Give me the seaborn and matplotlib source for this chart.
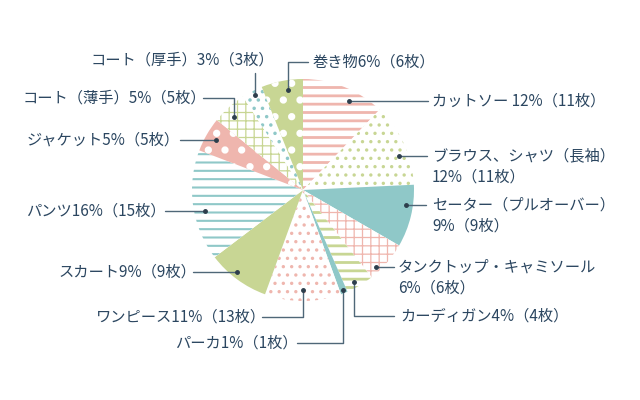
import numpy as np
import matplotlib
matplotlib.use("Agg")
import matplotlib.pyplot as plt
import seaborn as sns

# slices, clockwise from 12 o'clock
items = ["カットソー", "ブラウス、シャツ（長袖）", "セーター（プルオーバー）",
         "タンクトップ・キャミソール", "カーディガン", "パーカ", "ワンピース",
         "スカート", "パンツ", "ジャケット", "コート（薄手）", "コート（厚手）", "巻き物"]
percents = [12, 12, 9, 6, 4, 1, 11, 9, 16, 5, 5, 3, 6]
counts = [11, 11, 9, 6, 4, 1, 13, 9, 15, 5, 5, 3, 6]
seps = [" ", "\n", "\n", "\n", "", "", "", "", "", "", "", "", ""]

PINK = "#efb6ae"
GREEN = "#c8d694"
TEAL = "#8fc8c8"
# facecolor, hatch colour, hatch, hatch linewidth
styles = [
    ("white", PINK, "--", 2.0),
    ("white", GREEN, "..", 1.2),
    (TEAL, None, None, 0),
    ("white", PINK, "++", 0.9),
    ("white", GREEN, "--", 2.0),
    (TEAL, None, None, 0),
    ("white", PINK, "..", 1.2),
    (GREEN, None, None, 0),
    ("white", TEAL, "--", 1.5),
    (PINK, "white", ".", 2.8),
    ("white", GREEN, "++", 0.9),
    ("white", TEAL, "..", 1.3),
    (GREEN, "white", ".", 2.8),
]

# leader layout: position inside wedge (angle frac, radius frac), kind, text x/y (px), line start (px), ha
leaders = [
    (0.37, 0.90, "h", 432, None, 428, "left"),
    (0.38, 0.92, "h", 432, None, 427, "left"),
    (0.67, 0.94, "h", 432, None, 426, "left"),
    (0.24, 0.955, "h", 398, None, 394, "left"),
    (0.37, 0.95, "elbow", 400, 316, 394, "left"),
    (0.5, 0.97, "elbow", 298, 343, 297, "right"),
    (0.5, 0.90, "elbow", 266, 317, 262, "right"),
    (0.43, 0.95, "h", 196, None, 193, "right"),
    (0.57, 0.90, "h", 166, None, 165, "right"),
    (0.5, 0.90, "h", 180, None, 180, "right"),
    (0.59, 0.90, "elbow", 206, 98, 203, "right"),
    (0.46, 0.96, "v", 274, 60, 73, "right"),
    (0.39, 0.91, "elbow", 313, 62, 308, "left"),
]

CX, CY, R = 303, 190, 111
W, H = 640, 400
TEXT_C = "#2b4660"
LINE_C = "#4f6778"


def px(x):
    return (x - CX) / R


def py(y):
    return (CY - y) / R


sns.set_theme(style="white")
plt.rcParams["font.family"] = ["Noto Sans CJK JP", "DejaVu Sans"]

fig = plt.figure(figsize=(6.4, 4), dpi=100)
ax = fig.add_axes([0, 0, 1, 1])
wedges, _ = ax.pie(percents, startangle=90, counterclock=False, radius=1,
                   wedgeprops=dict(linewidth=0))
for w, (fc, hc, hatch, hlw) in zip(wedges, styles):
    w.set_facecolor(fc)
    if hatch:
        w.set_edgecolor(hc)
        w.set_linewidth(0)
        w.set_hatch(hatch)
        if hasattr(w, "set_hatch_linewidth"):
            w.set_hatch_linewidth(hlw)
        else:
            w._hatch_linewidth = hlw

line_h = 21 / R
for w, name, p, c, sep, (fr, rf, kind, tx, ty, lx, ha) in zip(
        wedges, items, percents, counts, seps, leaders):
    ang = np.deg2rad(w.theta1 + fr * (w.theta2 - w.theta1))
    dx, dy = rf * np.cos(ang), rf * np.sin(ang)
    if kind == "h":
        y0 = dy
        ax.plot([px(lx), dx], [y0, y0], color=LINE_C, lw=1)
    elif kind == "elbow":
        y0 = py(ty)
        ax.plot([px(lx), dx, dx], [y0, y0, dy], color=LINE_C, lw=1)
    else:
        y0 = py(ty)
        ax.plot([dx, dx], [py(lx), dy], color=LINE_C, lw=1)
    ax.plot(dx, dy, "o", color="#2d3e4c", ms=2.5)
    label = f"{name}{sep}{p}%（{c}枚）"
    for k, line in enumerate(label.split("\n")):
        ax.text(px(tx), y0 - k * line_h, line, ha=ha, va="center",
                fontsize=11, color=TEXT_C)

ax.set_xlim(px(0), px(W))
ax.set_ylim(py(H), py(0))
ax.set_aspect("equal")
ax.axis("off")
fig.savefig("out.png", dpi=100)
